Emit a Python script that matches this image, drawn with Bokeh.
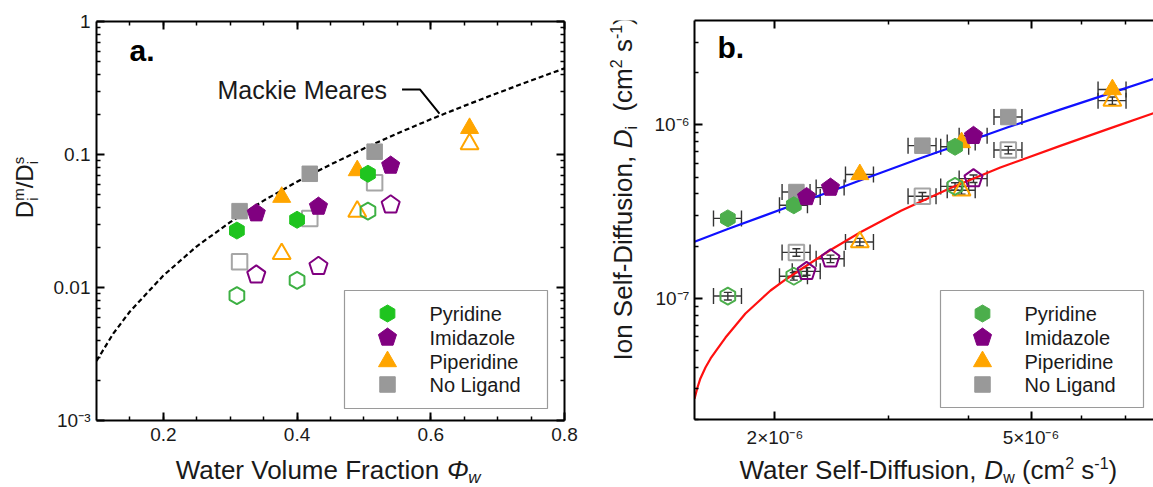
import math

from bokeh.embed import file_html
from bokeh.layouts import column, row
from bokeh.models import (ColumnDataSource, CustomJSTickFormatter, FixedTicker, Label,
                          LinearAxis, LogAxis, Range1d, TeeHead, Whisker)
from bokeh.plotting import figure
from bokeh.resources import INLINE

FONT = "Liberation Sans"
INK = "#1a1a1a"

# ---------------------------------------------------------------- panel a data
# membrane / solution diffusivity ratio against water volume fraction
phi_pyridine = [0.310, 0.400, 0.506]
ratio_pyridine_filled = [0.0268, 0.0323, 0.0716]
ratio_pyridine_open = [0.0087, 0.0113, 0.0375]

phi_imidazole = [0.339, 0.432, 0.540]
ratio_imidazole_filled = [0.0362, 0.0406, 0.0826]
ratio_imidazole_open = [0.01245, 0.01445, 0.0419]

phi_piperidine = [0.377, 0.490, 0.658]
ratio_piperidine_filled = [0.0478, 0.0758, 0.1575]
ratio_piperidine_open = [0.0179, 0.0373, 0.120]

phi_noligand = [0.314, 0.419, 0.516]
ratio_noligand_filled = [0.0375, 0.0716, 0.105]
ratio_noligand_open = [0.0156, 0.0330, 0.0613]

# Mackie-Meares obstruction curve
mackie_phi = [0.10, 0.125, 0.15, 0.20, 0.25, 0.30, 0.35, 0.40, 0.45, 0.50,
              0.55, 0.60, 0.65, 0.70, 0.75, 0.80]
mackie_ratio = [0.0028, 0.0045, 0.0066, 0.0123, 0.0204, 0.031, 0.045, 0.0625,
                0.084, 0.111, 0.144, 0.184, 0.232, 0.290, 0.360, 0.444]

phi_ticks = [0.2, 0.4, 0.6, 0.8]
phi_tick_labels = ["0.2", "0.4", "0.6", "0.8"]
ratio_ticks = [0.001, 0.01, 0.1, 1.0]
ratio_tick_labels = ["10\u207b\u00b3", "0.01", "0.1", "1"]

# ---------------------------------------------------------------- panel b data
# ion self-diffusion against water self-diffusion (cm^2/s)
dw_pyridine = [1.69e-6, 2.14e-6, 3.81e-6]
di_pyridine_filled = [2.89e-7, 3.44e-7, 7.48e-7]
di_pyridine_open = [1.03e-7, 1.34e-7, 4.42e-7]

dw_imidazole = [2.24e-6, 2.44e-6, 4.07e-6]
di_imidazole_filled = [3.84e-7, 4.35e-7, 8.65e-7]
di_imidazole_open = [1.43e-7, 1.69e-7, 4.90e-7]

dw_piperidine = [2.71e-6, 3.90e-6, 6.69e-6]
di_piperidine_filled = [5.18e-7, 7.92e-7, 1.60e-6]
di_piperidine_open = [2.11e-7, 4.20e-7, 1.38e-6]

dw_noligand = [2.16e-6, 3.39e-6, 4.61e-6]
di_noligand_filled = [4.10e-7, 7.59e-7, 1.11e-6]
di_noligand_open = [1.84e-7, 3.88e-7, 7.16e-7]

# relative uncertainty of both diffusivities
dw_rel_err = 0.05
di_rel_err = 0.05

# model curves through the filled (blue) and open (red) series
blue_dw = [1.50e-6, 1.69e-6, 2.14e-6, 2.44e-6, 2.71e-6, 3.39e-6, 3.81e-6,
           4.07e-6, 4.59e-6, 5.55e-6, 6.70e-6, 7.75e-6]
blue_di = [0.212e-6, 0.251e-6, 0.346e-6, 0.413e-6, 0.478e-6, 0.648e-6,
           0.755e-6, 0.823e-6, 0.965e-6, 1.225e-6, 1.540e-6, 1.840e-6]
red_dw = [1.500e-6, 1.516e-6, 1.532e-6, 1.560e-6, 1.589e-6, 1.629e-6, 1.676e-6,
          1.737e-6, 1.800e-6, 1.879e-6, 1.969e-6, 2.079e-6, 2.193e-6, 2.44e-6,
          2.72e-6, 3.14e-6, 3.75e-6, 4.48e-6, 5.55e-6, 6.63e-6, 7.75e-6]
red_di = [0.0264e-6, 0.0306e-6, 0.0345e-6, 0.0399e-6, 0.0450e-6, 0.0513e-6,
          0.0594e-6, 0.0697e-6, 0.0817e-6, 0.0946e-6, 0.1109e-6, 0.1284e-6,
          0.1466e-6, 0.190e-6, 0.241e-6, 0.320e-6, 0.432e-6, 0.568e-6,
          0.757e-6, 0.955e-6, 1.169e-6]

dw_ticks = [2e-6, 5e-6]
dw_tick_labels = ["2\u00d710\u207b\u2076", "5\u00d710\u207b\u2076"]
di_ticks = [1e-7, 1e-6]
di_tick_labels = ["10\u207b\u2077", "10\u207b\u2076"]

legend_names = ["Pyridine", "Imidazole", "Piperidine", "No Ligand"]

# ---------------------------------------------------------------- styling
A_GREEN, A_GREEN_OPEN = "#1fc41f", "#3db043"
B_GREEN = "#4cae4c"
PURPLE, ORANGE, GRAY, GRAY_OPEN = "#800080", "#ffa500", "#999999", "#a6a6a6"
ERR = "#333333"

# Arial / Liberation Sans advance widths (1/1000 em) used to lay out titles
ADV = {" ": 278, "(": 333, ")": 333, ",": 278, "-": 333, ".": 278, "/": 278,
       "D": 722, "F": 611, "I": 278, "S": 667, "V": 667, "W": 944, "\u03a6": 798,
       "a": 556, "c": 500, "d": 556, "e": 556, "f": 278, "i": 222, "l": 222,
       "m": 833, "n": 556, "o": 556, "r": 333, "s": 500, "t": 278, "u": 556,
       "w": 722}
# distance from the alphabetic baseline to the middle of the text box (em)
MID = 0.3465


def text_width(s, size):
    return sum(ADV.get(c, 556) for c in s) * size / 1000.0


def run_length(pieces):
    return sum(p[4] if len(p) > 4 else text_width(p[0], p[1]) for p in pieces)


def add_run(p, pieces, x0, y0, vertical=False):
    """Lay out a title made of styled pieces; (x0, y0) is the baseline start
    in pixels from the frame's bottom-left corner. Each piece is anchored at
    its own centre, which is the same whether or not the text is rotated."""
    pos = 0.0
    for piece in pieces:
        text, size, style, shift = piece[:4]
        adv = piece[4] if len(piece) > 4 else text_width(text, size)
        body = text.strip(" ")
        lead = text_width(text[:len(text) - len(text.lstrip(" "))], size)
        along = pos + lead + text_width(body, size) / 2
        across = shift + MID * size
        if vertical:
            x, y, ang = x0 - across, y0 + along, math.pi / 2
        else:
            x, y, ang = x0 + along, y0 + across, 0.0
        p.add_layout(Label(x=x, y=y, x_units="screen", y_units="screen", text=body,
                           angle=ang, text_font=FONT, text_font_size=f"{size}px",
                           text_font_style=style, text_color=INK,
                           text_align="center", text_baseline="middle"))
        pos += adv


def title_strip(width, height):
    """Axis-free canvas that carries an axis title."""
    f = figure(width=width, height=height, x_range=Range1d(0, width),
               y_range=Range1d(0, height), output_backend="svg", toolbar_location=None,
               x_axis_location=None, y_axis_location=None, outline_line_color=None,
               min_border_left=0, min_border_right=0, min_border_top=0,
               min_border_bottom=0, background_fill_color="white",
               border_fill_color="white")
    f.grid.visible = False
    return f


def style_axis(ax, ticks, minor, labels=None):
    ax.ticker = FixedTicker(ticks=ticks, minor_ticks=minor)
    ax.axis_line_width = 2
    ax.axis_line_color = "black"
    ax.major_tick_line_width = 2
    ax.minor_tick_line_width = 1.5
    ax.major_tick_line_color = "black"
    ax.minor_tick_line_color = "black"
    ax.major_tick_in, ax.major_tick_out = 8, 0
    ax.minor_tick_in, ax.minor_tick_out = 4, 0
    ax.axis_label = None
    if labels is None:
        ax.formatter = CustomJSTickFormatter(code="return ''")
        ax.major_label_text_font_size = "0px"
        ax.major_label_standoff = 0
    else:
        ax.major_label_overrides = dict(zip(ticks, labels))
        ax.major_label_text_font = FONT
        ax.major_label_text_font_size = "19px"
        ax.major_label_text_color = INK


def draw_marker(p, kind, x, y, color, filled):
    fill = color if filled else None
    lw = 1 if filled else 2
    if kind == "hex":
        p.ngon(x=x, y=y, radius=8.5, radius_units="screen", n=6, angle=0,
               fill_color=fill, line_color=color, line_width=lw)
    elif kind == "pent":
        p.ngon(x=x, y=y, radius=9.5, radius_units="screen", n=5, angle=0,
               fill_color=fill, line_color=color, line_width=lw)
    elif kind == "tri":
        p.scatter(x=x, y=y, marker="triangle", size=18, fill_color=fill,
                  line_color=color, line_width=lw)
    else:
        p.scatter(x=x, y=y, marker="square", size=15.5, fill_color=fill,
                  line_color=color, line_width=lw)


def frame_mapper(xr, yr, fw, fh, xlog, ylog):
    def lin(r, t, log):
        if log:
            a, b = math.log10(r[0]), math.log10(r[1])
            return 10 ** (a + t * (b - a))
        return r[0] + t * (r[1] - r[0])
    return (lambda px: lin(xr, px / fw, xlog)), (lambda py: lin(yr, py / fh, ylog))


def draw_legend(p, fx, fy, box, key_px, text_px, rows, kinds, colors):
    left, right, bottom, top = box
    p.quad(left=[fx(left)], right=[fx(right)], bottom=[fy(bottom)], top=[fy(top)],
           fill_color="white", line_color="#9a9a9a", line_width=1.2)
    for name, kind, color, ry in zip(legend_names, kinds, colors, rows):
        draw_marker(p, kind, [fx(key_px)], [fy(ry)], color, True)
        p.add_layout(Label(x=text_px, y=ry, x_units="screen", y_units="screen",
                           text=name, text_font=FONT, text_font_size="20px",
                           text_color=INK, text_baseline="middle"))


PLOT_H, XT_H = 451, 36

# ================================================================ panel a
A_FW, A_FH = 468, 399
a_x, a_y = (0.1, 0.8), (1e-3, 1.0)
pa = figure(width=536, height=PLOT_H, x_range=Range1d(*a_x), y_range=Range1d(*a_y),
            y_axis_type="log", output_backend="svg", toolbar_location=None,
            min_border_left=52, min_border_right=16, min_border_top=21,
            min_border_bottom=31, background_fill_color="white",
            border_fill_color="white", outline_line_color=None)
pa.grid.visible = False

phi_minor = [round(0.15 + 0.05 * k, 2) for k in range(13)]
ratio_minor = [m * 10.0 ** e for e in (-3, -2, -1) for m in range(2, 10)]
style_axis(pa.xaxis[0], phi_ticks, phi_minor, phi_tick_labels)
style_axis(pa.yaxis[0], ratio_ticks, ratio_minor, ratio_tick_labels)
pa.xaxis[0].major_label_standoff = 7
pa.yaxis[0].major_label_standoff = 6
top_a = LinearAxis()
style_axis(top_a, phi_ticks, phi_minor)
pa.add_layout(top_a, "above")
right_a = LogAxis()
style_axis(right_a, ratio_ticks, ratio_minor)
pa.add_layout(right_a, "right")

pa.line(mackie_phi, mackie_ratio, line_color="black", line_width=2.2, line_dash="5 3")
# callout from the curve label to the curve
pa.line([0.557, 0.584, 0.613], [0.308, 0.308, 0.203], line_color="black", line_width=2)

series_a = [("sq", phi_noligand, ratio_noligand_filled, ratio_noligand_open, GRAY, GRAY_OPEN),
            ("tri", phi_piperidine, ratio_piperidine_filled, ratio_piperidine_open, ORANGE, ORANGE),
            ("hex", phi_pyridine, ratio_pyridine_filled, ratio_pyridine_open, A_GREEN, A_GREEN_OPEN),
            ("pent", phi_imidazole, ratio_imidazole_filled, ratio_imidazole_open, PURPLE, PURPLE)]
for kind, xs, yf, yo, cf, co in series_a:
    draw_marker(pa, kind, xs, yo, co, False)
for kind, xs, yf, yo, cf, co in series_a:
    draw_marker(pa, kind, xs, yf, cf, True)

fxa, fya = frame_mapper(a_x, a_y, A_FW, A_FH, False, True)
draw_legend(pa, fxa, fya, (248, 451, 12, 130), 291, 333, [107, 83, 59, 36],
            ["hex", "pent", "tri", "sq"], [A_GREEN, PURPLE, ORANGE, GRAY])

pa.add_layout(Label(x=33, y=354, x_units="screen", y_units="screen", text="a.",
                    text_font=FONT, text_font_size="30px", text_font_style="bold",
                    text_color="black"))
pa.add_layout(Label(x=121, y=317, x_units="screen", y_units="screen",
                    text="Mackie Meares", text_font=FONT, text_font_size="25px",
                    text_color=INK))

ya = title_strip(44, PLOT_H)
yt_a = [("D", 24, "normal", 0), ("i", 15, "normal", -5, 0), ("m", 15, "normal", 9),
        ("/", 24, "normal", 0), ("D", 24, "normal", 0), ("i", 15, "normal", -5, 0),
        ("s", 15, "normal", 9)]
add_run(ya, yt_a, 32, 233 - run_length(yt_a) / 2, vertical=True)

xa = title_strip(580, XT_H)
xt_a = [("Water Volume Fraction ", 26, "normal", 0), ("\u03a6", 26, "italic", 0),
        ("w", 17, "italic", -4)]
add_run(xa, xt_a, 327 - run_length(xt_a) / 2, 8)

# ================================================================ panel b
B_FW, B_FH = 459, 399
b_x, b_y = (1.5e-6, 7.75e-6), (2e-8, 4e-6)
pb = figure(width=513, height=PLOT_H, x_range=Range1d(*b_x), y_range=Range1d(*b_y),
            x_axis_type="log", y_axis_type="log", output_backend="svg",
            toolbar_location=None, min_border_left=54, min_border_right=0,
            min_border_top=20, min_border_bottom=32, background_fill_color="white",
            border_fill_color="white", outline_line_color=None)
pb.grid.visible = False

dw_minor = [3e-6, 4e-6, 6e-6, 7e-6]
di_minor = [m * 10.0 ** e for e in (-8, -7) for m in range(2, 10)] + [2e-6, 3e-6]
style_axis(pb.xaxis[0], dw_ticks, dw_minor, dw_tick_labels)
style_axis(pb.yaxis[0], di_ticks, di_minor, di_tick_labels)
pb.xaxis[0].major_label_standoff = 7
pb.yaxis[0].major_label_standoff = 5
top_b = LogAxis()
style_axis(top_b, dw_ticks, dw_minor)
pb.add_layout(top_b, "above")

pb.line(blue_dw, blue_di, line_color="#1010ff", line_width=2.2)
pb.line(red_dw, red_di, line_color="#ff1010", line_width=2.2)

series_b = [("sq", dw_noligand, di_noligand_filled, di_noligand_open, GRAY, GRAY_OPEN),
            ("tri", dw_piperidine, di_piperidine_filled, di_piperidine_open, ORANGE, ORANGE),
            ("hex", dw_pyridine, di_pyridine_filled, di_pyridine_open, B_GREEN, B_GREEN),
            ("pent", dw_imidazole, di_imidazole_filled, di_imidazole_open, PURPLE, PURPLE)]

for kind, xs, yf, yo, cf, co in series_b:
    for ys in (yo, yf):
        src = ColumnDataSource(dict(
            x=xs, y=ys,
            xl=[v * (1 - dw_rel_err) for v in xs], xu=[v * (1 + dw_rel_err) for v in xs],
            yl=[v * (1 - di_rel_err) for v in ys], yu=[v * (1 + di_rel_err) for v in ys]))
        pb.add_layout(Whisker(source=src, base="y", lower="xl", upper="xu",
                              dimension="width", line_color=ERR, line_width=1.4,
                              level="underlay",
                              lower_head=TeeHead(size=16, line_color=ERR, line_width=1.4),
                              upper_head=TeeHead(size=16, line_color=ERR, line_width=1.4)))
        pb.add_layout(Whisker(source=src, base="x", lower="yl", upper="yu",
                              dimension="height", line_color=ERR, line_width=1.4,
                              level="underlay",
                              lower_head=TeeHead(size=8, line_color=ERR, line_width=1.4),
                              upper_head=TeeHead(size=8, line_color=ERR, line_width=1.4)))

for kind, xs, yf, yo, cf, co in series_b:
    draw_marker(pb, kind, xs, yo, co, False)
for kind, xs, yf, yo, cf, co in series_b:
    draw_marker(pb, kind, xs, yf, cf, True)

fxb, fyb = frame_mapper(b_x, b_y, B_FW, B_FH, True, True)
draw_legend(pb, fxb, fyb, (246, 449, 12, 129), 288, 330, [106, 82, 58, 35],
            ["hex", "pent", "tri", "sq"], [B_GREEN, PURPLE, ORANGE, GRAY])

pb.add_layout(Label(x=23, y=356, x_units="screen", y_units="screen", text="b.",
                    text_font=FONT, text_font_size="30px", text_font_style="bold",
                    text_color="black"))

yb = title_strip(60, PLOT_H)
yt_b = [("Ion Self-Diffusion, ", 26, "normal", 0), ("D", 26, "italic", 0),
        ("i", 16, "normal", -5), ("  (cm", 26, "normal", 0), ("2", 16, "normal", 11),
        (" s", 26, "normal", 0), ("-1", 16, "normal", 11), (")", 26, "normal", 0)]
add_run(yb, yt_b, 52, 231 - run_length(yt_b) / 2, vertical=True)

xb = title_strip(573, XT_H)
xt_b = [("Water Self-Diffusion, ", 26, "normal", 0), ("D", 26, "italic", 0),
        ("w", 16, "normal", -4), (" (cm", 26, "normal", 0), ("2", 16, "normal", 11),
        (" s", 26, "normal", 0), ("-1", 16, "normal", 11), (")", 26, "normal", 0)]
add_run(xb, xt_b, 347.5 - run_length(xt_b) / 2, 8)

block_a = column(row(ya, pa), xa)
block_b = column(row(yb, pb), xb)
layout = row(block_a, block_b)
open("out.html", "w").write(file_html(layout, INLINE))
